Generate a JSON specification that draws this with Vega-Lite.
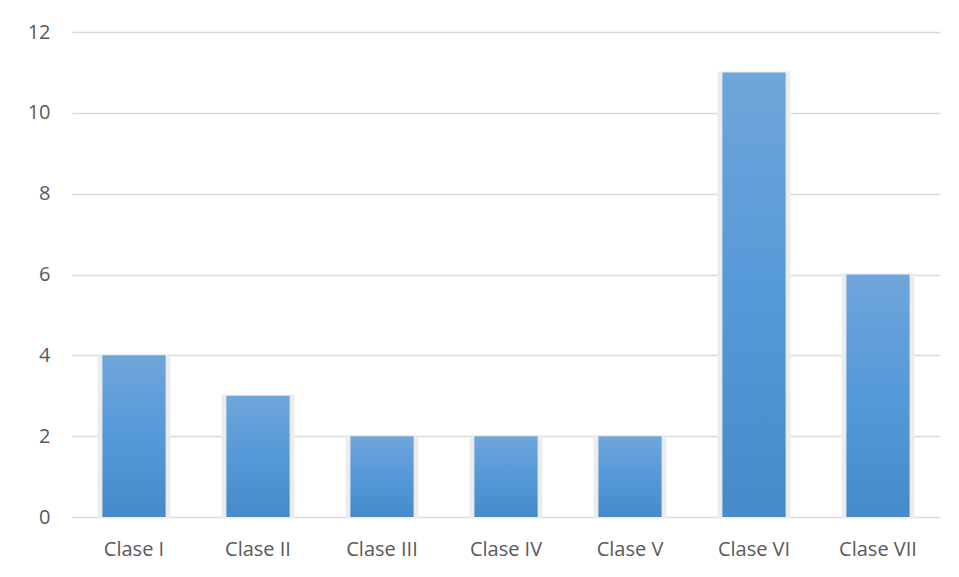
{
  "$schema": "https://vega.github.io/schema/vega-lite/v6.json",
  "width": 868,
  "height": 485,
  "autosize": {"type": "none"},
  "padding": {"left": 72, "top": 32, "right": 19, "bottom": 60},
  "background": "white",
  "config": {
    "view": {"stroke": null},
    "font": "Open Sans"
  },
  "data": {
    "values": [
      {"clase": "Clase I", "valor": 4},
      {"clase": "Clase II", "valor": 3},
      {"clase": "Clase III", "valor": 2},
      {"clase": "Clase IV", "valor": 2},
      {"clase": "Clase V", "valor": 2},
      {"clase": "Clase VI", "valor": 11},
      {"clase": "Clase VII", "valor": 6}
    ]
  },
  "encoding": {
    "x": {
      "field": "clase",
      "type": "nominal",
      "sort": null,
      "title": null,
      "scale": {"paddingInner": 0, "paddingOuter": 0},
      "axis": {
        "labelAngle": 0,
        "labelFont": "Open Sans",
        "labelFontSize": 20,
        "labelColor": "#595959",
        "labelPadding": 22,
        "ticks": false,
        "domain": false,
        "grid": false
      }
    },
    "y": {
      "field": "valor",
      "type": "quantitative",
      "title": null,
      "scale": {"domain": [0, 12], "nice": false},
      "axis": {
        "values": [0, 2, 4, 6, 8, 10, 12],
        "labelFont": "Open Sans",
        "labelFontSize": 20,
        "labelColor": "#595959",
        "labelPadding": 22,
        "ticks": false,
        "domain": false,
        "grid": true,
        "gridColor": "#d9d9d9",
        "gridWidth": 1.5
      }
    }
  },
  "layer": [
    {
      "mark": {"type": "bar", "width": {"band": 0.57}, "color": "#ececec", "stroke": "#ececec", "strokeWidth": 2}
    },
    {
      "mark": {
        "type": "bar",
        "width": {"band": 0.51},
        "color": {
          "gradient": "linear",
          "x1": 0, "y1": 0, "x2": 0, "y2": 1,
          "stops": [
            {"offset": 0, "color": "#6fa6da"},
            {"offset": 0.5, "color": "#5599d8"},
            {"offset": 1, "color": "#468ac8"}
          ]
        }
      }
    }
  ]
}
